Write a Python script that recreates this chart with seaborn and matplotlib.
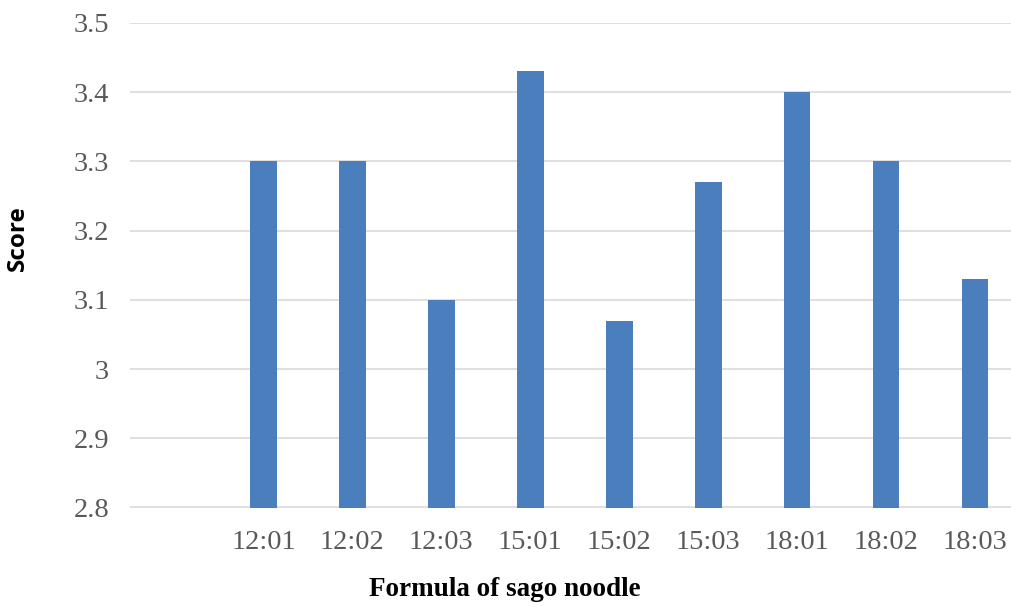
import matplotlib
matplotlib.use("Agg")
import matplotlib.pyplot as plt
import seaborn as sns
import pandas as pd
from matplotlib.ticker import FuncFormatter, MultipleLocator

categories = ["12:01", "12:02", "12:03", "15:01", "15:02", "15:03", "18:01", "18:02", "18:03"]
scores = [3.30, 3.30, 3.10, 3.43, 3.07, 3.27, 3.40, 3.30, 3.13]

df = pd.DataFrame({"Formula": categories, "Score": scores})

sns.set_theme(style="white")
plt.rcParams["font.family"] = ["Liberation Serif", "DejaVu Serif"]

W, H = 1012, 607
fig = plt.figure(figsize=(W / 100, H / 100), dpi=100)
left = 130 / W
right = 1019.5 / W
top = 1 - 23 / H
bottom = 1 - 507.5 / H
ax = fig.add_axes([left, bottom, right - left, top - bottom])

bar_color = "#4a7ebd"
sns.barplot(data=df, x="Formula", y="Score", color=bar_color, width=0.30,
            saturation=1, ax=ax, zorder=3, linewidth=0)

ax.set_ylim(2.8, 3.5)
ax.set_xlim(-1.5, 8.5)
ax.yaxis.set_major_locator(MultipleLocator(0.1))
ax.yaxis.set_major_formatter(FuncFormatter(lambda v, p: f"{round(v, 2):g}"))
ax.grid(axis="y", color="#d9d9d9", linewidth=1.2, zorder=0)
ax.grid(axis="x", visible=False)
for s in ax.spines.values():
    s.set_visible(False)
ax.tick_params(axis="both", length=0, labelsize=20.5, labelcolor="#595959")
ax.tick_params(axis="y", pad=15)
ax.tick_params(axis="x", pad=16)
ax.set_xlabel("")
ax.set_ylabel("")

fig.text(18 / W, 1 - 238 / H, "Score", rotation=90, ha="center", va="center",
         fontsize=17.5, fontweight="bold", family=["Open Sans", "DejaVu Sans"], color="black")
fig.text(505 / W, 1 - 589 / H, "Formula of sago noodle", ha="center", va="center",
         fontsize=19.5, fontweight="bold", family=["Liberation Serif", "DejaVu Serif"], color="black")

fig.savefig("out.png", dpi=100, facecolor="white")
